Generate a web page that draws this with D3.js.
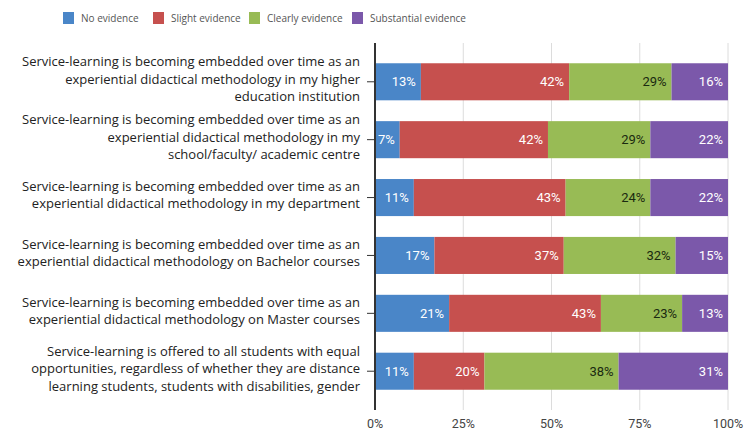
<!DOCTYPE html>
<html>
<head>
<meta charset="utf-8">
<script src="https://cdn.jsdelivr.net/npm/d3@7"></script>
<style>
  body { margin: 0; background: #fff; }
  svg { display: block; }
</style>
</head>
<body>
<svg id="vis" width="746" height="430"></svg>
<script>
// series names and colours, in stacking order
var series = ["No evidence", "Slight evidence", "Clearly evidence", "Substantial evidence"];
var colors = ["#4a86c8", "#c6504e", "#98bb55", "#7b58aa"];
var labelColors = ["#ffffff", "#ffffff", "#1a2a10", "#ffffff"];

// each category label split into its lines
var categories = [
  ["Service-learning is becoming embedded over time as an", "experiential didactical methodology in my higher", "education institution"],
  ["Service-learning is becoming embedded over time as an", "experiential didactical methodology in my", "school/faculty/ academic centre"],
  ["Service-learning is becoming embedded over time as an", "experiential didactical methodology in my department"],
  ["Service-learning is becoming embedded over time as an", "experiential didactical methodology on Bachelor courses"],
  ["Service-learning is becoming embedded over time as an", "experiential didactical methodology on Master courses"],
  ["Service-learning is offered to all students with equal", "opportunities, regardless of whether they are distance", "learning students, students with disabilities, gender"]
];

// percentages per series, one value per category
var noEvidence          = [13, 7, 11, 17, 21, 11];
var slightEvidence      = [42, 42, 43, 37, 43, 20];
var clearlyEvidence     = [29, 29, 24, 32, 23, 38];
var substantialEvidence = [16, 22, 22, 15, 13, 31];

var xTicks = [0, 25, 50, 75, 100];

var svg = d3.select("#vis");
var plotLeft = 375, plotRight = 728, plotTop = 43, plotBottom = 410;

var rows = categories.map(function(c, i) {
  return {
    idx: i,
    "No evidence": noEvidence[i],
    "Slight evidence": slightEvidence[i],
    "Clearly evidence": clearlyEvidence[i],
    "Substantial evidence": substantialEvidence[i]
  };
});

// rows are shares of 100%, rounding can make them sum to 101 so normalise
var x = d3.scaleLinear().domain([0, 1]).range([plotLeft, plotRight]);
var y = d3.scaleBand().domain(d3.range(categories.length)).range([plotTop, plotBottom])
  .paddingInner(0.36).paddingOuter(0.35);

// gridlines
svg.append("g").selectAll("line")
  .data(xTicks.slice(1))
  .enter().append("line")
  .attr("x1", d => x(d / 100)).attr("x2", d => x(d / 100))
  .attr("y1", plotTop).attr("y2", plotBottom)
  .attr("stroke", "#dcdcdc").attr("stroke-width", 1);

var stack = d3.stack().keys(series).offset(d3.stackOffsetExpand);
var layers = stack(rows);

var layer = svg.append("g").selectAll("g")
  .data(layers)
  .enter().append("g")
  .attr("fill", (d, i) => colors[i]);

layer.selectAll("rect")
  .data(d => d)
  .enter().append("rect")
  .attr("x", d => x(d[0]))
  .attr("width", d => x(d[1]) - x(d[0]))
  .attr("y", d => y(d.data.idx))
  .attr("height", y.bandwidth());

// value labels, right aligned inside each segment
layer.each(function(L, si) {
  d3.select(this).selectAll("text")
    .data(L)
    .enter().append("text")
    .attr("x", d => x(d[1]) - 5)
    .attr("y", d => y(d.data.idx) + y.bandwidth() / 2)
    .attr("dy", "0.35em")
    .attr("text-anchor", "end")
    .attr("fill", labelColors[si])
    .style("font-family", "Roboto, sans-serif")
    .style("font-size", "13px")
    .text(d => d.data[series[si]] + "%");
});

// x axis labels
svg.append("g").selectAll("text")
  .data(xTicks)
  .enter().append("text")
  .attr("x", d => x(d / 100))
  .attr("y", 428)
  .attr("text-anchor", "middle")
  .attr("fill", "#444")
  .style("font-family", "Roboto, sans-serif")
  .style("font-size", "12.5px")
  .text(d => d + "%");

// y axis line and ticks
svg.append("line")
  .attr("x1", plotLeft).attr("x2", plotLeft)
  .attr("y1", plotTop).attr("y2", plotBottom)
  .attr("stroke", "#333").attr("stroke-width", 2);

svg.append("g").selectAll("line")
  .data(d3.range(categories.length))
  .enter().append("line")
  .attr("x1", plotLeft - 8).attr("x2", plotLeft)
  .attr("y1", d => y(d) + y.bandwidth() / 2)
  .attr("y2", d => y(d) + y.bandwidth() / 2)
  .attr("stroke", "#333").attr("stroke-width", 1);

// category labels
var lineH = 17.5;
var cat = svg.append("g").selectAll("text")
  .data(categories)
  .enter().append("text")
  .attr("text-anchor", "end")
  .attr("fill", "#222")
  .style("font-family", "'Open Sans', sans-serif")
  .style("font-size", "13px");

cat.each(function(lines, i) {
  var cy = y(i) + y.bandwidth() / 2;
  var t = d3.select(this);
  lines.forEach(function(s, k) {
    t.append("tspan")
      .attr("x", 360)
      .attr("y", cy + (k - (lines.length - 1) / 2) * lineH + 2)
      .text(s);
  });
});

// legend
var legendX = [63, 153, 249, 352];
var leg = svg.append("g").selectAll("g")
  .data(series)
  .enter().append("g")
  .attr("transform", (d, i) => "translate(" + legendX[i] + ",12)");

leg.append("rect")
  .attr("width", 11).attr("height", 12)
  .attr("fill", (d, i) => colors[i]);

leg.append("text")
  .attr("x", 18).attr("y", 6).attr("dy", "0.35em")
  .attr("fill", "#555")
  .style("font-family", "'Open Sans', sans-serif")
  .style("font-size", "10px")
  .text(d => d);
</script>
</body>
</html>
